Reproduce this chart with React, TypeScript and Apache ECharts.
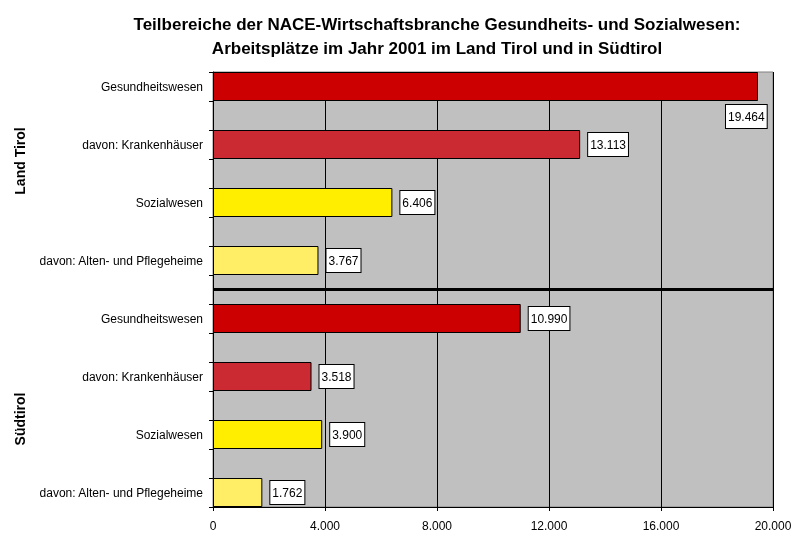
import React, { useEffect, useRef } from "react";
import * as echarts from "echarts";

const title = "Teilbereiche der NACE-Wirtschaftsbranche Gesundheits- und Sozialwesen:\nArbeitsplätze im Jahr 2001 im Land Tirol und in Südtirol";
const regions = ["Land Tirol", "Südtirol"];
const categories = ["Gesundheitswesen", "davon: Krankenhäuser", "Sozialwesen", "davon: Alten- und Pflegeheime"];
const tirolValues = [19464, 13113, 6406, 3767];
const suedtirolValues = [10990, 3518, 3900, 1762];
const categoryColors = ["#CC0000", "#CC2A33", "#FFEE00", "#FFEE66"];
const xMin = 0;
const xMax = 20000;
const xInterval = 4000;

const fmt = (v: number) => String(Math.round(v)).replace(/\B(?=(\d{3})+(?!\d))/g, ".");

export default function App() {
  const ref = useRef<HTMLDivElement>(null);
  useEffect(() => {
    if (!ref.current) return;
    const chart = echarts.init(ref.current, null, { renderer: "svg" });

    const labels: string[] = [];
    const data: any[] = [];
    const groups = [tirolValues, suedtirolValues];
    groups.forEach((vals, gi) => {
      vals.forEach((v, ci) => {
        labels.push(categories[ci]);
        const item: any = { value: v, itemStyle: { color: categoryColors[ci] } };
        if (gi === 0 && ci === 0) {
          item.label = {
            position: ["100%", "100%"],
            offset: [-32, 4],
            align: "left",
            verticalAlign: "top",
          };
        }
        data.push(item);
        if (!(gi === groups.length - 1 && ci === vals.length - 1)) {
          labels.push("");
          data.push("-");
        }
      });
    });
    const sepIndex = tirolValues.length * 2 - 1;

    const font = "Liberation Sans, Arial, sans-serif";
    chart.setOption({
      animation: false,
      textStyle: { fontFamily: font },
      title: {
        text: title,
        left: 432,
        top: 7,
        textAlign: "center",
        textStyle: { fontFamily: font, fontSize: 17, fontWeight: "bold", color: "#000", lineHeight: 24 },
      },
      graphic: [
        {
          type: "text",
          x: 20,
          y: 161,
          rotation: Math.PI / 2,
          style: { text: regions[0], fontFamily: font, fontSize: 14, fontWeight: "bold", fill: "#000", align: "center", verticalAlign: "middle" },
        },
        {
          type: "text",
          x: 20,
          y: 419,
          rotation: Math.PI / 2,
          style: { text: regions[1], fontFamily: font, fontSize: 14, fontWeight: "bold", fill: "#000", align: "center", verticalAlign: "middle" },
        },
      ],
      grid: {
        left: 213,
        top: 72,
        width: 560,
        height: 435,
        show: true,
        backgroundColor: "#C0C0C0",
        borderColor: "#808080",
        borderWidth: 1,
      },
      xAxis: {
        type: "value",
        min: xMin,
        max: xMax,
        interval: xInterval,
        axisLine: { show: true, lineStyle: { color: "#000", width: 1 } },
        axisTick: { show: true, length: 4, lineStyle: { color: "#000" } },
        axisLabel: { formatter: (v: number) => fmt(v), color: "#000", fontSize: 12, margin: 13, fontFamily: font },
        splitLine: { show: true, lineStyle: { color: "#000", width: 1 } },
      },
      yAxis: {
        type: "category",
        data: labels,
        inverse: true,
        axisLine: { show: true, lineStyle: { color: "#000", width: 1 } },
        axisTick: { show: true, length: 4, interval: 0, lineStyle: { color: "#000" } },
        axisLabel: { interval: 0, color: "#000", fontSize: 12, margin: 10, fontFamily: font },
        splitLine: { show: false },
      },
      series: [
        {
          type: "bar",
          data,
          barWidth: "100%",
          barCategoryGap: 0,
          itemStyle: { borderColor: "#000", borderWidth: 1 },
          label: {
            show: true,
            position: "right",
            distance: 8,
            formatter: (p: any) => fmt(p.value),
            color: "#000",
            fontSize: 12,
            fontFamily: font,
            backgroundColor: "#fff",
            borderColor: "#000",
            borderWidth: 1,
            padding: [6, 2, 5, 2],
          },
          markLine: {
            silent: true,
            symbol: "none",
            label: { show: false },
            lineStyle: { color: "#000", width: 3, type: "solid" },
            data: [{ yAxis: sepIndex }],
          },
        },
      ],
    });
    return () => chart.dispose();
  }, []);
  return <div ref={ref} style={{ position: "fixed", left: 0, top: 0, width: 800, height: 554 }} />;
}
